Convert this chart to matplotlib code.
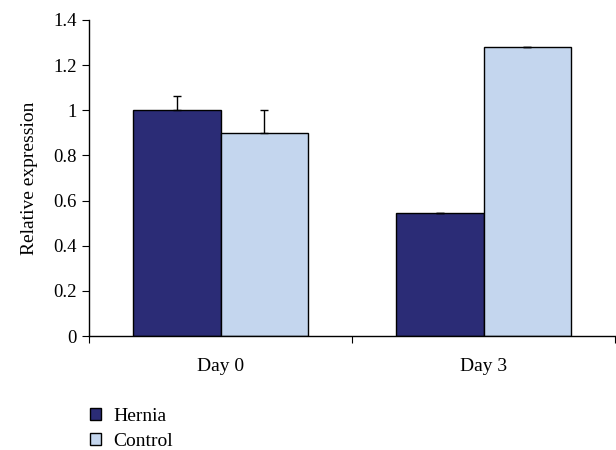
import matplotlib.pyplot as plt
import numpy as np
from matplotlib.patches import Patch

plt.rcParams['font.family'] = ['Liberation Serif', 'DejaVu Serif']

# Data
days = ['Day 0', 'Day 3']
hernia = [1.0, 0.545]
hernia_err = [0.065, 0.0]
control = [0.9, 1.28]
control_err = [0.10, 0.0]
yticks = [0, 0.2, 0.4, 0.6, 0.8, 1, 1.2, 1.4]
yticklabels = ['0', '0.2', '0.4', '0.6', '0.8', '1', '1.2', '1.4']

dark = '#2b2c76'
light = '#c4d6ee'
fs = 14

fig = plt.figure(figsize=(6.16, 4.5), dpi=100)
ax = fig.add_axes([0.1445, 0.2533, 0.854, 0.7023])

x = np.arange(len(days))
w = 0.333
err_kw = dict(ecolor='black', elinewidth=1, capsize=3, capthick=1)
ax.bar(x - w / 2, hernia, w, yerr=[np.zeros(2), hernia_err], color=dark,
       edgecolor='black', linewidth=1, error_kw=err_kw)
ax.bar(x + w / 2, control, w, yerr=[np.zeros(2), control_err], color=light,
       edgecolor='black', linewidth=1, error_kw=err_kw)

ax.set_xlim(-0.5, 1.5)
ax.set_ylim(0, 1.4)
ax.set_yticks(yticks)
ax.set_yticklabels(yticklabels, fontsize=13.5)
ax.set_xticks([-0.5, 0.5, 1.5])
ax.set_xticklabels([])
ax.set_xticks(x, minor=True)
ax.set_xticklabels(days, minor=True, fontsize=fs)
ax.tick_params(axis='x', which='minor', length=0, pad=16)
ax.tick_params(axis='x', which='major', direction='out', length=5)
ax.tick_params(axis='y', direction='out', length=5, pad=4)
ax.set_ylabel('Relative expression', fontsize=fs, labelpad=11)

for s in ['top', 'right']:
    ax.spines[s].set_visible(False)
ax.spines['left'].set_linewidth(1)
ax.spines['bottom'].set_linewidth(1)

handles = [Patch(facecolor=dark, edgecolor='black', label='Hernia'),
           Patch(facecolor=light, edgecolor='black', label='Control')]
fig.legend(handles=handles, loc='upper left', bbox_to_anchor=(0.133, 0.111),
           frameon=False, fontsize=fs, handlelength=0.6, handleheight=0.6,
           handletextpad=0.6, labelspacing=0.4, borderaxespad=0)

fig.savefig('out.png', dpi=100)
